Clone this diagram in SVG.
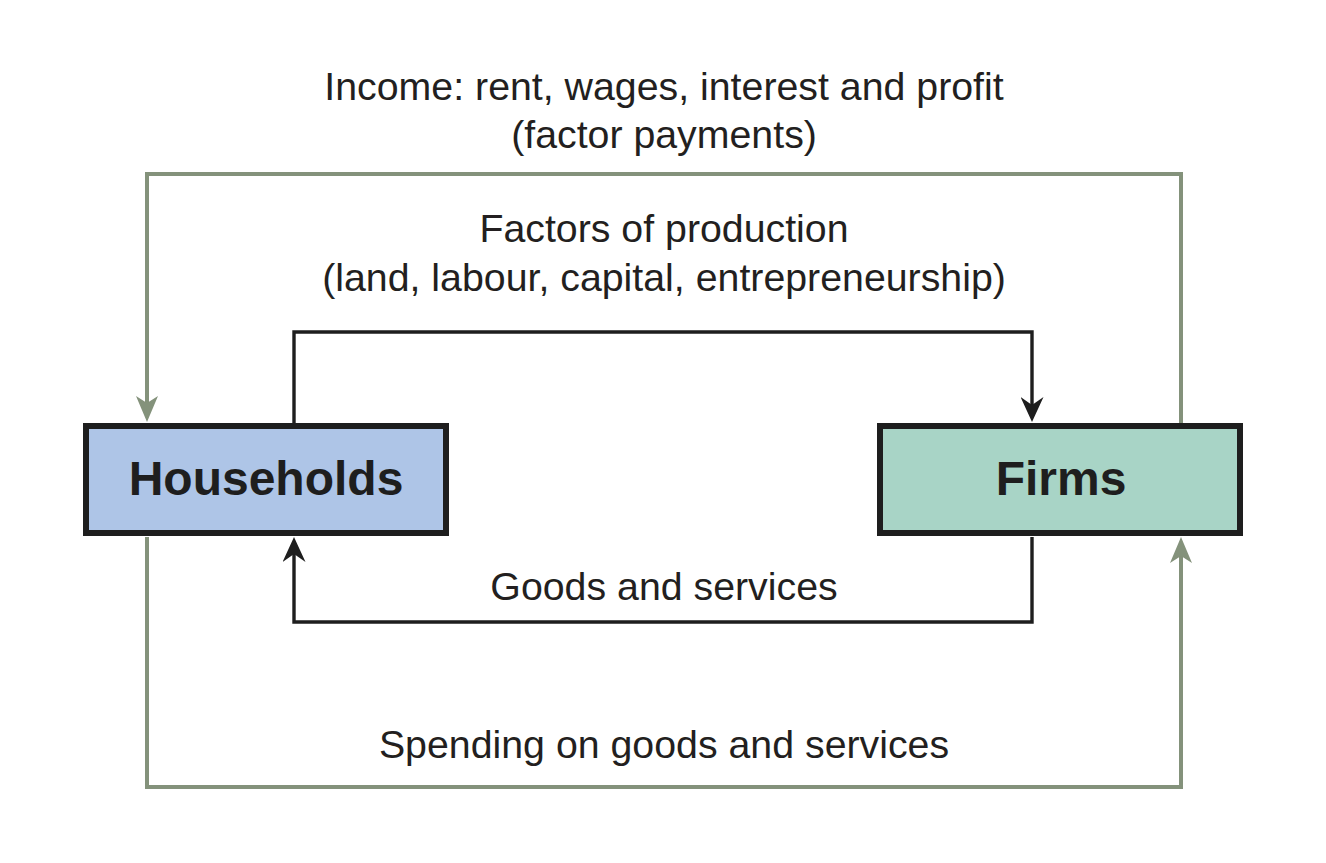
<svg xmlns="http://www.w3.org/2000/svg" width="1326" height="863" viewBox="0 0 1326 863">
<defs>
<style>
.lbl{font-family:"Liberation Sans",Arial,sans-serif;font-size:39.3px;fill:#231f20;text-anchor:middle}
.node{font-family:"Liberation Sans",Arial,sans-serif;font-size:48px;font-weight:bold;fill:#1e1e1e;text-anchor:middle}
.box{stroke:#1e1e1e;stroke-width:6}
.g{fill:none;stroke:#84927b;stroke-width:4}
.k{fill:none;stroke:#1e1e1e;stroke-width:3.4}
</style>
<marker id="ag" viewBox="0 0 26 22" refX="16" refY="11" markerWidth="26" markerHeight="22" markerUnits="userSpaceOnUse" orient="auto">
<path d="M0,0 L26,11 L0,22 L7,11 Z" fill="#84927b"/>
</marker>
<marker id="ak" viewBox="0 0 25 23" refX="15" refY="11.5" markerWidth="25" markerHeight="23" markerUnits="userSpaceOnUse" orient="auto">
<path d="M0,0 L25,11.5 L0,23 L8,11.5 Z" fill="#1e1e1e"/>
</marker>
</defs>
<rect width="1326" height="863" fill="#ffffff"/>
<g id="connectors">
<path class="g" d="M1181,423 V174 H147 V412" marker-end="url(#ag)"/>
<path class="g" d="M147,537 V787 H1181 V547" marker-end="url(#ag)"/>
<path class="k" d="M294,423 V332 H1032 V412" marker-end="url(#ak)"/>
<path class="k" d="M1032,537 V622 H294 V547" marker-end="url(#ak)"/>
</g>
<g id="households">
<rect class="box" x="86" y="426" width="360" height="107" fill="#aec5e7"/>
<text class="node" x="266" y="495">Households</text>
</g>
<g id="firms">
<rect class="box" x="880" y="426" width="360" height="107" fill="#a8d4c6"/>
<text class="node" x="1061" y="495">Firms</text>
</g>
<g id="labels">
<text class="lbl" x="664" y="100">Income: rent, wages, interest and profit</text>
<text class="lbl" x="664" y="148">(factor payments)</text>
<text class="lbl" x="664" y="242">Factors of production</text>
<text class="lbl" x="664" y="291">(land, labour, capital, entrepreneurship)</text>
<text class="lbl" x="664" y="600">Goods and services</text>
<text class="lbl" x="664" y="758">Spending on goods and services</text>
</g>
</svg>
